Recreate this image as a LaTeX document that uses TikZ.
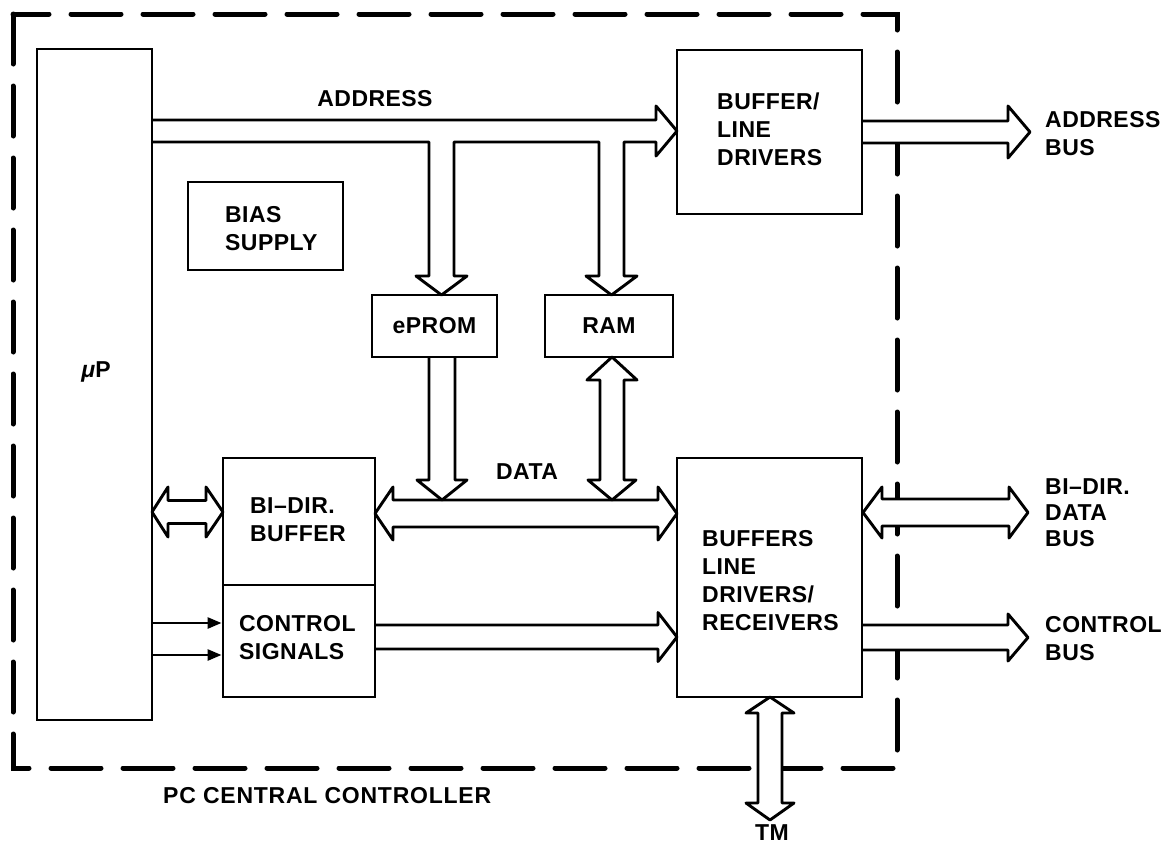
\documentclass[tikz,border=0pt]{standalone}
\usepackage{fontspec}
\setmainfont{Liberation Sans}
\newfontfamily\lblfont{Liberation Sans}[LetterSpace=2.0]
\usetikzlibrary{arrows.meta}
\pgfdeclarelayer{background}
\pgfsetlayers{background,main}
\begin{document}
\begin{tikzpicture}[x=1pt,y=-1pt,
  box/.style={draw, line width=2.9pt, inner sep=0pt},
  lbl/.style={font=\lblfont\bfseries\fontsize{23}{28}\selectfont, inner sep=0pt, align=left},
  bus/.style={draw, line width=2.9pt, fill=white, line join=round},
  frame/.style={draw, line width=5pt, dash pattern=on 50pt off 22pt, line cap=round},
  sig/.style={line width=2.6pt, -{Triangle[length=14pt,width=11pt]}}]
\useasboundingbox (0,0) rectangle (1167,847);

% boxes
\node[box, minimum width=115, minimum height=671] (mup) at (94.5,384.5) {};
\node[box, minimum width=185, minimum height=164] (bld) at (769.5,132) {};
\node[box, minimum width=155, minimum height=88] (bias) at (265.5,226) {};
\node[box, minimum width=125, minimum height=62, lbl] (eprom) at (434.5,326) {ePROM};
\node[box, minimum width=128, minimum height=62, lbl] (ram) at (609,326) {RAM};
\node[box, minimum width=152, minimum height=127] (bidir) at (299,521.5) {};
\node[box, minimum width=152, minimum height=112] (ctrl) at (299,641) {};
\node[box, minimum width=185, minimum height=239] (bufs) at (769.5,577.5) {};

% labels
\node[lbl] (mupl) at (96,372) {{\itshape μ}P};
\node[lbl, anchor=west] (bldl) at (717,129.5) {BUFFER/\\LINE\\DRIVERS};
\node[lbl, anchor=west] (biasl) at (225,229) {BIAS\\SUPPLY};
\node[lbl, anchor=west] (bidirl) at (250,519.5) {BI–DIR.\\BUFFER};
\node[lbl, anchor=west] (ctrll) at (239,638) {CONTROL\\SIGNALS};
\node[lbl, anchor=west] (bufsl) at (702,581) {BUFFERS\\LINE\\DRIVERS/\\RECEIVERS};
\node[lbl] (addrl) at (375,99) {ADDRESS};
\node[lbl] (datal) at (527,472) {DATA};
\node[lbl, anchor=west] (abusl) at (1045,134) {ADDRESS\\BUS};
\node[lbl, anchor=west, font=\lblfont\bfseries\fontsize{23}{26}\selectfont] (dbusl) at (1045,512.5) {BI–DIR.\\DATA\\BUS};
\node[lbl, anchor=west] (cbusl) at (1045,639) {CONTROL\\BUS};
\node[lbl] (tml) at (772,833) {TM};
\node[lbl, anchor=west, font=\lblfont\bfseries\fontsize{23}{28}\selectfont\addfontfeature{LetterSpace=3.3}] (pcl) at (163,796) {PC CENTRAL CONTROLLER};

% thin control signal arrows
\coordinate (s1) at (0,623);
\coordinate (s2) at (0,655);
\draw[sig] (mup.east |- s1) -- (ctrl.west |- s1);
\draw[sig] (mup.east |- s2) -- (ctrl.west |- s2);

\begin{pgfonlayer}{background}
% dashed frame
\path[frame] (13,14) rectangle (897,768);
% address bus with branches to ePROM and RAM
\path[bus] (152,120) -- (656,120) -- (656,106) -- (677,131) -- (656,156) -- (656,142)
  -- (624,142) -- (624,276) -- (637,276) -- (611.5,295) -- (586,276) -- (599,276) -- (599,142)
  -- (454,142) -- (454,276) -- (467,276) -- (441.5,295) -- (416,276) -- (429,276) -- (429,142)
  -- (152,142);
% address bus out
\path[bus] (862,121) -- (1008,121) -- (1008,106) -- (1030,132) -- (1008,158) -- (1008,143) -- (862,143);
% data bus
\path[bus] (375,513.5) -- (393,487) -- (393,500) -- (658,500) -- (658,487) -- (677,513.5)
  -- (658,540) -- (658,527) -- (393,527) -- (393,540) -- cycle;
% ePROM to data
\path[bus] (429,357) -- (429,480) -- (417,480) -- (442,500) -- (467,480) -- (455,480) -- (455,357);
% RAM <-> data
\path[bus] (612,357) -- (637,380) -- (624,380) -- (624,480) -- (636,480) -- (612,500)
  -- (588,480) -- (600,480) -- (600,380) -- (587,380) -- cycle;
% uP <-> bi-dir buffer
\path[bus] (152,512) -- (168,487) -- (168,500.5) -- (206,500.5) -- (206,487) -- (223,512)
  -- (206,537) -- (206,523.5) -- (168,523.5) -- (168,537) -- cycle;
% control signals to buffers
\path[bus] (375,625) -- (658,625) -- (658,612.5) -- (677,637) -- (658,661.5) -- (658,649) -- (375,649);
% bi-dir data bus out
\path[bus] (863,512.5) -- (882,487) -- (882,499) -- (1009,499) -- (1009,487) -- (1028,512.5)
  -- (1009,538) -- (1009,526) -- (882,526) -- (882,538) -- cycle;
% control bus out
\path[bus] (862,625) -- (1008,625) -- (1008,614) -- (1028,637.5) -- (1008,661) -- (1008,650) -- (862,650);
% TM
\path[bus] (770,697) -- (794,713) -- (782,713) -- (782,803) -- (794,803) -- (770,820)
  -- (746,803) -- (758,803) -- (758,713) -- (746,713) -- cycle;
\end{pgfonlayer}
\end{tikzpicture}
\end{document}
